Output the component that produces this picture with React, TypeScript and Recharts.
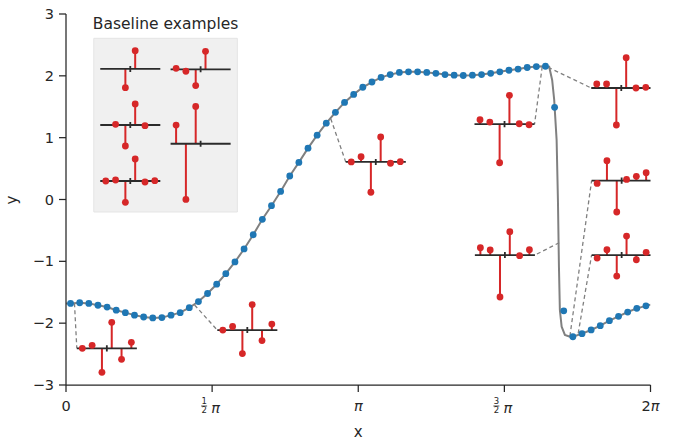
import React from 'react';
import { ComposedChart, Line, Scatter, XAxis, YAxis, ReferenceArea } from 'recharts';

const TWO_PI = 2 * Math.PI;
const N_SAMPLES = 64;

// sample positions (cell centres) and sampled values (blue dots)
const SAMPLE_X = Array.from({ length: N_SAMPLES }, (_, i) => ((i + 0.5) * TWO_PI) / N_SAMPLES);
const SAMPLE_Y = [
  -1.68, -1.67, -1.68, -1.71, -1.74, -1.79, -1.83, -1.87, -1.9, -1.915,
  -1.91, -1.87, -1.83, -1.75, -1.65, -1.52, -1.37, -1.2, -1.01, -0.8,
  -0.57, -0.32, -0.1, 0.13, 0.38, 0.6, 0.83, 1.04, 1.235, 1.41,
  1.57, 1.7, 1.815, 1.9, 1.975, 2.02, 2.055, 2.065, 2.065, 2.055,
  2.04, 2.02, 2.01, 2.005, 2.01, 2.02, 2.04, 2.065, 2.09, 2.11,
  2.135, 2.15, 2.155, 1.49, -1.8, -2.22, -2.17, -2.11, -2.04, -1.96,
  -1.89, -1.82, -1.76, -1.72,
];

// continuous curve: ends and the steep drop
const CURVE_START_Y = -1.68;
const CURVE_END_Y = -1.7;
const DROP_X = [5.194, 5.226, 5.248, 5.274, 5.288, 5.299, 5.309, 5.328, 5.363, 5.417];
const DROP_Y = [2.148, 1.933, 1.61, 0.962, 0.0, -1.087, -1.787, -2.057, -2.19, -2.22];

// stencil glyphs in the plot
const GLYPH_CX = [0.439, 1.949, 3.33, 4.714, 5.969, 5.973, 5.973, 4.718];
const GLYPH_CY = [-2.407, -2.111, 0.607, 1.22, 1.803, 0.304, -0.898, -0.898];
const GLYPH_STEMS: (number | null)[][] = [
  [0, 0.049, -0.388, 0.42, -0.178, 0.097],
  [0, 0.057, -0.38, 0.412, -0.17, 0.097],
  [0, 0.086, -0.49, 0.404, -0.021, 0.005],
  [0.07, 0.032, -0.626, 0.464, 0.005, -0.011],
  [0.065, 0.065, -0.598, 0.49, 0, 0.011],
  [-0.044, 0.323, -0.506, 0.021, 0.07, 0.129],
  [-0.049, 0.086, -0.34, 0.307, -0.076, 0.044],
  [0.118, 0.081, -0.679, 0.377, -0.011, 0.086],
];
const GLYPH_LINK_SIDE = [-1, -1, -1, 1, -1, -1, -1, 1];
const GLYPH_LINK_X = [0.091, 1.382, 2.846, 5.119, 5.183, 5.417, 5.506, 5.302];
const GLYPH_LINK_Y = [-1.679, -1.706, 1.307, 2.148, 2.138, -2.208, -2.164, -0.699];

// legend ("Baseline examples") glyphs
const LEGEND_CX = [0.691, 1.447, 0.691, 1.447, 0.691];
const LEGEND_CY = [2.111, 2.106, 1.205, 0.902, 0.299];
const LEGEND_STEMS: (number | null)[][] = [
  [null, null, -0.302, 0.296, null, null],
  [0.016, -0.032, -0.264, 0.291, null, null],
  [null, 0.011, -0.34, 0.34, -0.011, null],
  [0.302, -0.901, 0.603, null, null, null],
  [0, 0.016, -0.344, 0.356, -0.016, 0.005],
];
const LEGEND_BOX_X = [0.299, 1.842];
const LEGEND_BOX_Y = [-0.202, 2.607];
const LEGEND_TITLE = 'Baseline examples';

// axes
const X_TICKS = [0, Math.PI / 2, Math.PI, (3 * Math.PI) / 2, TWO_PI];
const X_TICK_LABELS = ['0', '1/2π', 'π', '3/2π', '2π'];
const Y_TICKS = [-3, -2, -1, 0, 1, 2, 3];

// glyph geometry (data units)
const SLOT = 0.1054;
const HALF_WIDTH = 0.3228;
const TICK_HALF = 0.05;

const TEXT = '#262626';
const RED = '#d62728';
const BLUE = '#1f77b4';
const GRAY = '#808080';

const samples = SAMPLE_X.map((x, i) => ({ x, y: SAMPLE_Y[i] }));
const curve = [
  { x: 0, y: CURVE_START_Y },
  ...samples.slice(0, 53),
  ...DROP_X.map((x, i) => ({ x, y: DROP_Y[i] })),
  ...samples.slice(55),
  { x: TWO_PI, y: CURVE_END_Y },
];

const allCx = [...GLYPH_CX, ...LEGEND_CX];
const allCy = [...GLYPH_CY, ...LEGEND_CY];
const allStems = [...GLYPH_STEMS, ...LEGEND_STEMS];

const stems: { x: number; y: number | null }[] = [];
const tips: { x: number; y: number }[] = [];
const baselines: { x: number; y: number | null }[] = [];
allCx.forEach((cx, g) => {
  const cy = allCy[g];
  allStems[g].forEach((v, k) => {
    if (v === null) return;
    const x = cx + (k - 2.5) * SLOT;
    stems.push({ x, y: cy }, { x, y: cy + v }, { x, y: null });
    tips.push({ x, y: cy + v });
  });
  baselines.push({ x: cx - HALF_WIDTH, y: cy }, { x: cx + HALF_WIDTH, y: cy }, { x: cx, y: null });
  baselines.push({ x: cx, y: cy - TICK_HALF }, { x: cx, y: cy + TICK_HALF }, { x: cx, y: null });
});

const links: { x: number; y: number | null }[] = [];
GLYPH_CX.forEach((cx, g) => {
  const ex = cx + GLYPH_LINK_SIDE[g] * HALF_WIDTH;
  links.push({ x: GLYPH_LINK_X[g], y: GLYPH_LINK_Y[g] }, { x: ex, y: GLYPH_CY[g] }, { x: ex, y: null });
});

function XTick(props: any) {
  const { x, y, payload } = props;
  const i = X_TICKS.findIndex((t) => Math.abs(t - payload.value) < 1e-9);
  const lab = X_TICK_LABELS[i] ?? '';
  const fs = 14.5;
  if (lab.includes('/')) {
    const [num, rest] = lab.split('/');
    const den = rest.replace('π', '');
    return (
      <g fill={TEXT}>
        <text x={x - 8} y={y + 11.8} fontSize={8.5} textAnchor="middle">{num}</text>
        <line x1={x - 11} x2={x - 5} y1={y + 14} y2={y + 14} stroke={TEXT} strokeWidth={0.8} />
        <text x={x - 8} y={y + 21} fontSize={8.5} textAnchor="middle">{den}</text>
        <text x={x + 3.5} y={y + 21} fontSize={fs} fontStyle="italic" textAnchor="middle">π</text>
      </g>
    );
  }
  return (
    <text x={x} y={y + 18.5} fontSize={fs} fill={TEXT} textAnchor="middle">
      {lab.split('').map((c, k) => (
        <tspan key={k} fontStyle={c === 'π' ? 'italic' : 'normal'}>{c}</tspan>
      ))}
    </text>
  );
}

function YLabel() {
  return (
    <text x={17} y={200} fontSize={15} fill={TEXT} textAnchor="middle" transform="rotate(-90 17 200)">
      y
    </text>
  );
}

const dot = (color: string) => (p: any) => <circle cx={p.cx} cy={p.cy} r={3.4} fill={color} />;

export default function App() {
  return (
    <div style={{ position: 'absolute', left: 0, top: 0, fontFamily: 'DejaVu Sans', background: '#fff' }}>
      <ComposedChart width={673} height={441} margin={{ top: 14, right: 22.5, bottom: 0, left: 0 }}>
        <XAxis
          type="number"
          dataKey="x"
          domain={[0, TWO_PI]}
          ticks={X_TICKS}
          allowDataOverflow
          height={56}
          tickSize={7}
          tickMargin={0}
          tick={<XTick />}
          axisLine={{ stroke: TEXT, strokeWidth: 1.25 }}
          tickLine={{ stroke: TEXT, strokeWidth: 1.25 }}
          interval={0}
          label={{ value: 'x', position: 'insideBottom', offset: 4, fill: TEXT, fontSize: 15 }}
        />
        <YAxis
          type="number"
          dataKey="y"
          domain={[-3, 3]}
          ticks={Y_TICKS}
          allowDataOverflow
          width={66}
          tickSize={7}
          tickMargin={5}
          interval={0}
          tickFormatter={(v: number) => String(v).replace('-', '\u2212')}
          tick={{ fill: TEXT, fontSize: 14.5 }}
          axisLine={{ stroke: TEXT, strokeWidth: 1.25 }}
          tickLine={{ stroke: TEXT, strokeWidth: 1.25 }}
          label={<YLabel />}
        />
        <ReferenceArea
          x1={LEGEND_BOX_X[0]}
          x2={LEGEND_BOX_X[1]}
          y1={LEGEND_BOX_Y[0]}
          y2={LEGEND_BOX_Y[1]}
          fill="#f0f0f0"
          fillOpacity={1}
          stroke="#e4e4e4"
          label={{ value: LEGEND_TITLE, position: 'top', offset: 9, fontSize: 15.5, fill: TEXT }}
        />
        <Line data={links} dataKey="y" stroke={GRAY} strokeWidth={1.3} strokeDasharray="4 3" dot={false} isAnimationActive={false} connectNulls={false} />
        <Line data={curve} dataKey="y" stroke={GRAY} strokeWidth={2} dot={false} isAnimationActive={false} />
        <Scatter data={samples} fill={BLUE} shape={dot(BLUE)} isAnimationActive={false} />
        <Line data={stems} dataKey="y" stroke={RED} strokeWidth={2} dot={false} isAnimationActive={false} connectNulls={false} />
        <Line data={baselines} dataKey="y" stroke="#2b2b2b" strokeWidth={1.8} dot={false} isAnimationActive={false} connectNulls={false} />
        <Scatter data={tips} fill={RED} shape={dot(RED)} isAnimationActive={false} />
      </ComposedChart>
    </div>
  );
}
